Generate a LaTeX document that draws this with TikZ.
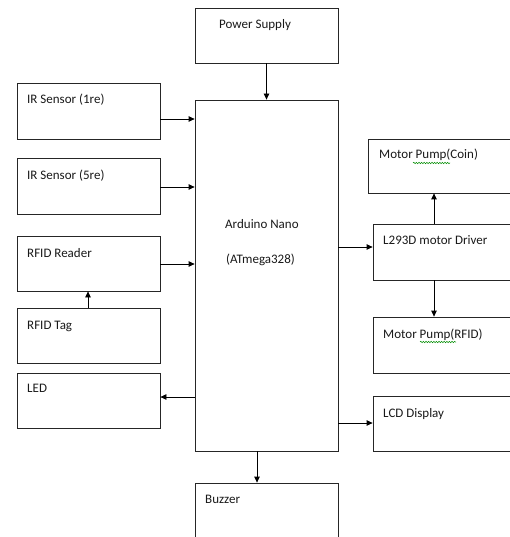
\documentclass[tikz,border=0pt]{standalone}
\usepackage{fontspec}
\setmainfont{Carlito}
\usetikzlibrary{arrows.meta,decorations.pathmorphing}
\begin{document}
\begin{tikzpicture}[x=1pt,y=-1pt,
  box/.style={draw=black!85,line width=0.8pt,rectangle,inner sep=0pt},
  lbl/.style={anchor=base west,inner sep=0pt,font=\fontsize{13}{15}\selectfont,text=black!90},
  arr/.style={draw=black,line width=0.8pt,-{Triangle[length=6pt,width=5.5pt]}},
  squig/.style={draw=green!55!black,line width=0.5pt,decorate,decoration={snake,amplitude=0.7pt,segment length=2.6pt}}]
\useasboundingbox (0,0) rectangle (510,537);
\clip (0,0) rectangle (510,537);
% boxes
\node[box,minimum width=143pt,minimum height=55pt] (ps) at (266.5,35.5) {};
\node[box,minimum width=143pt,minimum height=351pt] (ard) at (266.5,275.5) {};
\node[box,minimum width=143pt,minimum height=56pt] (ir1) at (88.5,111) {};
\node[box,minimum width=143pt,minimum height=56pt] (ir5) at (88.5,186) {};
\node[box,minimum width=143pt,minimum height=55pt] (rdr) at (88.5,263.5) {};
\node[box,minimum width=143pt,minimum height=55pt] (tag) at (88.5,335.5) {};
\node[box,minimum width=143pt,minimum height=55pt] (led) at (88.5,400.5) {};
\node[box,minimum width=152pt,minimum height=54pt] (coin) at (444,166) {};
\node[box,minimum width=142pt,minimum height=56pt] (drv) at (444,252) {};
\node[box,minimum width=142pt,minimum height=56pt] (prf) at (444,345) {};
\node[box,minimum width=142pt,minimum height=55pt] (lcd) at (444,423.5) {};
\node[box,minimum width=143pt,minimum height=80pt] (buz) at (266.5,523) {};
% labels
\node[lbl] (tps) at (219,29) {Power Supply};
\node[lbl] (ta1) at (225,228) {Arduino Nano};
\node[lbl] (ta2) at (226,263) {(ATmega328)};
\node[lbl] (t1) at (27,104) {IR Sensor (1re)};
\node[lbl] (t5) at (27,179) {IR Sensor (5re)};
\node[lbl] (tr) at (27,257) {RFID Reader};
\node[lbl] (tt) at (27,329) {RFID Tag};
\node[lbl] (tl) at (27,392) {LED};
\node[lbl] (tc) at (379,159) {Motor Pump(Coin)};
\node[lbl] (td) at (383,244) {L293D motor Driver};
\node[lbl] (tp) at (383,338) {Motor Pump(RFID)};
\node[lbl] (tlc) at (383,417) {LCD Display};
\node[lbl] (tb) at (205,503) {Buzzer};
% spell-check squiggles
\coordinate (s1a) at (413,163); \coordinate (s1b) at (450,163);
\coordinate (s2a) at (420,342); \coordinate (s2b) at (456,342);
\draw[squig] (s1a) -- (s1b);
\draw[squig] (s2a) -- (s2b);
% connector levels
\coordinate (y1) at (0,119);
\coordinate (y5) at (0,187);
\coordinate (yr) at (0,264);
\coordinate (yl) at (0,397);
\coordinate (yd) at (0,247);
\coordinate (ylc) at (0,423);
\coordinate (xt) at (88,0);
\coordinate (xd) at (434,0);
\coordinate (xb) at (257,0);
% connectors
\draw[arr] (ps.south) -- (ard.north);
\draw[arr] (ir1.east |- y1) -- (ard.west |- y1);
\draw[arr] (ir5.east |- y5) -- (ard.west |- y5);
\draw[arr] (rdr.east |- yr) -- (ard.west |- yr);
\draw[arr] (tag.north -| xt) -- (rdr.south -| xt);
\draw[arr] (ard.west |- yl) -- (led.east |- yl);
\draw[arr] (ard.east |- yd) -- (drv.west |- yd);
\draw[arr] (drv.north -| xd) -- (coin.south -| xd);
\draw[arr] (drv.south -| xd) -- (prf.north -| xd);
\draw[arr] (ard.east |- ylc) -- (lcd.west |- ylc);
\draw[arr] (ard.south -| xb) -- (buz.north -| xb);
\end{tikzpicture}
\end{document}
